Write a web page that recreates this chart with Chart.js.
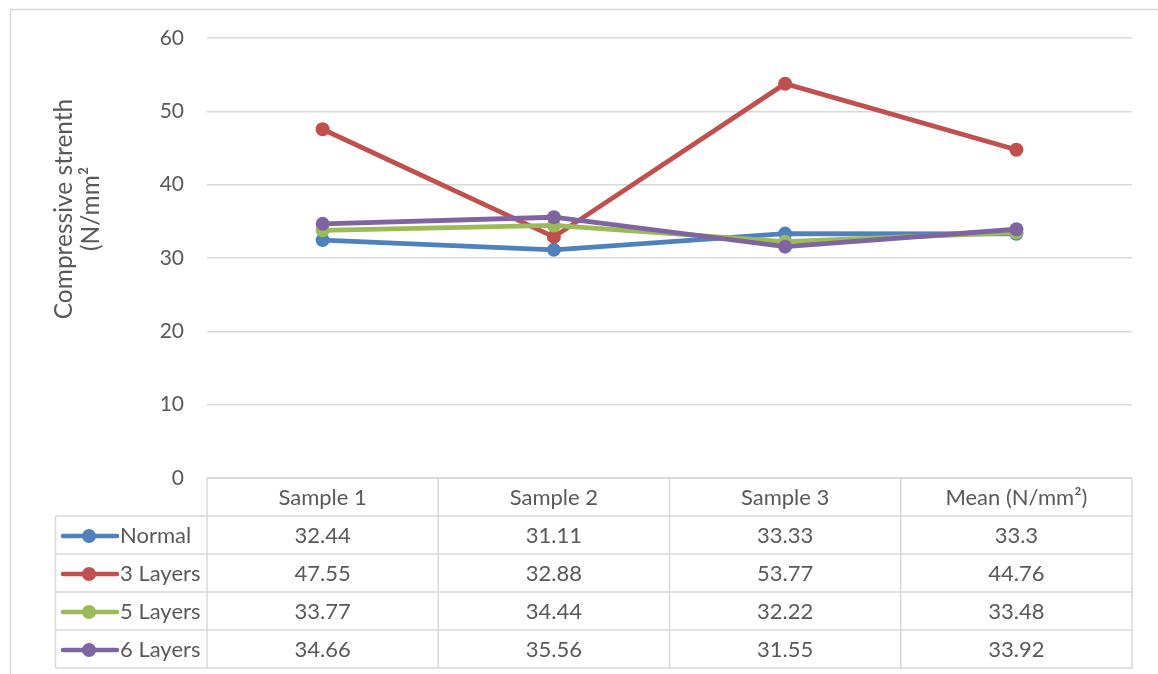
<!DOCTYPE html>
<html>
<head>
<meta charset="utf-8">
<script src="https://cdn.jsdelivr.net/npm/chart.js@4.4.1/dist/chart.umd.min.js"></script>
<style>
  html, body { margin: 0; padding: 0; background: #fff; }
  #wrap { width: 1158px; height: 674px; }
</style>
</head>
<body>
<div id="wrap"><canvas id="lineChart" width="1158" height="674"></canvas></div>
<script>
// Données du graphique
const categories = ['Sample 1', 'Sample 2', 'Sample 3', 'Mean (N/mm²)'];
const seriesNames = ['Normal', '3 Layers', '5 Layers', '6 Layers'];
const normalValues = [32.44, 31.11, 33.33, 33.3];
const layers3Values = [47.55, 32.88, 53.77, 44.76];
const layers5Values = [33.77, 34.44, 32.22, 33.48];
const layers6Values = [34.66, 35.56, 31.55, 33.92];
const yTickValues = [0, 10, 20, 30, 40, 50, 60];
const axisTitleLines = ['Compressive strenth', '(N/mm²'];

const colors = ['#4f81bd', '#c0504d', '#9bbb59', '#8064a2'];
const textColor = '#595959';
const lineGrey = '#d9d9d9';
const fontFamily = 'Lato, "Open Sans", sans-serif';

const allValues = [normalValues, layers3Values, layers5Values, layers6Values];

// Cadre extérieur + titre de l'axe
const framePlugin = {
  id: 'frame',
  beforeDraw(chart) {
    const ctx = chart.ctx;
    ctx.save();
    ctx.fillStyle = '#fff';
    ctx.fillRect(0, 0, chart.width, chart.height);
    ctx.strokeStyle = lineGrey;
    ctx.lineWidth = 1.5;
    ctx.beginPath();
    ctx.moveTo(10.5, chart.height);
    ctx.lineTo(10.5, 9.5);
    ctx.lineTo(chart.width, 9.5);
    ctx.stroke();

    // titre vertical sur deux lignes
    ctx.fillStyle = textColor;
    ctx.font = '24.5px ' + fontFamily;
    ctx.textAlign = 'center';
    ctx.textBaseline = 'middle';
    const xs = [64, 91];
    axisTitleLines.forEach((t, i) => {
      ctx.save();
      ctx.translate(xs[i], 209);
      ctx.rotate(-Math.PI / 2);
      ctx.fillText(t, 0, 0);
      ctx.restore();
    });
    ctx.restore();
  }
};

// Table de données sous le graphique
const tablePlugin = {
  id: 'dataTable',
  afterDraw(chart) {
    const ctx = chart.ctx;
    const x = chart.scales.x;
    const n = categories.length;
    const colW = (x.right - x.left) / n;
    const top = chart.chartArea.bottom;
    const rowH = 38;
    const legendLeft = 55.5;

    ctx.save();
    ctx.strokeStyle = lineGrey;
    ctx.lineWidth = 1.5;

    // lignes horizontales
    ctx.beginPath();
    ctx.moveTo(x.left, top);
    ctx.lineTo(x.right, top);
    for (let r = 1; r <= seriesNames.length + 1; r++) {
      const y = top + r * rowH;
      ctx.moveTo(legendLeft, y);
      ctx.lineTo(x.right, y);
    }
    // lignes verticales
    for (let c = 0; c <= n; c++) {
      const xx = x.left + c * colW;
      ctx.moveTo(xx, top);
      ctx.lineTo(xx, top + (seriesNames.length + 1) * rowH);
    }
    ctx.moveTo(legendLeft, top + rowH);
    ctx.lineTo(legendLeft, top + (seriesNames.length + 1) * rowH);
    ctx.stroke();

    ctx.fillStyle = textColor;
    ctx.font = '22px ' + fontFamily;
    ctx.textAlign = 'center';
    ctx.textBaseline = 'middle';
    categories.forEach((cat, c) => {
      ctx.fillText(cat, x.getPixelForValue(c), top + rowH / 2 + 1);
    });

    seriesNames.forEach((name, r) => {
      const cy = top + (r + 1) * rowH + rowH / 2 + 1;
      // clé de légende
      ctx.strokeStyle = colors[r];
      ctx.lineWidth = 4.5;
      ctx.lineCap = 'round';
      ctx.beginPath();
      ctx.moveTo(63, cy);
      ctx.lineTo(117, cy);
      ctx.stroke();
      ctx.fillStyle = colors[r];
      ctx.beginPath();
      ctx.arc(89, cy, 7, 0, Math.PI * 2);
      ctx.fill();

      ctx.fillStyle = textColor;
      ctx.textAlign = 'left';
      ctx.fillText(name, 120, cy);
      ctx.textAlign = 'center';
      allValues[r].forEach((v, c) => {
        ctx.fillText(String(v), x.getPixelForValue(c), cy);
      });
    });
    ctx.restore();
  }
};

const datasets = seriesNames.map((name, i) => ({
  label: name,
  data: allValues[i],
  borderColor: colors[i],
  backgroundColor: colors[i],
  borderWidth: 4.8,
  pointRadius: 7,
  pointHoverRadius: 7,
  pointBorderWidth: 0,
  tension: 0,
  order: seriesNames.length - 1 - i
}));

new Chart(document.getElementById('lineChart').getContext('2d'), {
  type: 'line',
  data: { labels: categories, datasets: datasets },
  options: {
    responsive: false,
    animation: false,
    devicePixelRatio: 1,
    layout: { padding: { left: 0, top: 38, right: 26, bottom: 196 } },
    plugins: {
      legend: { display: false },
      tooltip: { enabled: false }
    },
    scales: {
      x: { display: false, offset: true },
      y: {
        min: yTickValues[0],
        max: yTickValues[yTickValues.length - 1],
        afterFit(scale) { scale.width = 207; },
        afterBuildTicks(scale) { scale.ticks = yTickValues.map(v => ({ value: v })); },
        border: { display: false },
        grid: { color: lineGrey, lineWidth: 1.5, drawTicks: false },
        ticks: {
          color: textColor,
          padding: 23,
          font: { family: fontFamily, size: 21 }
        }
      }
    }
  },
  plugins: [framePlugin, tablePlugin]
});
</script>
</body>
</html>
